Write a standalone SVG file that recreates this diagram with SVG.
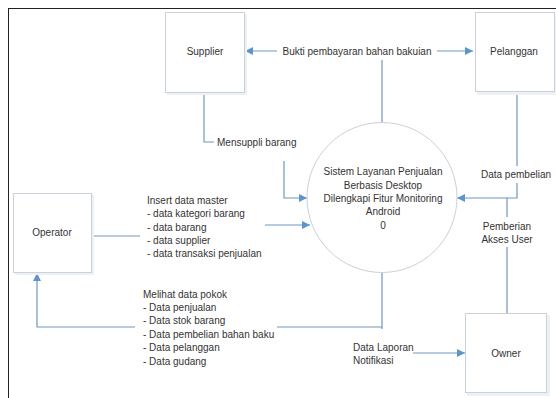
<svg xmlns="http://www.w3.org/2000/svg" width="556" height="398" viewBox="0 0 556 398">
<style>
  text { font-family: "Liberation Sans", Arial, sans-serif; font-size: 10px; fill: #333; }
  .box { fill: #fff; stroke: #c9d1da; stroke-width: 1; }
  .shadow { fill: #eef1f4; }
  .ln { fill: none; stroke: #7097bd; stroke-width: 1.2; }
  .bg { fill: #fff; }
  .c { text-anchor: middle; }
</style>
<defs>
  <marker id="ah" viewBox="0 0 10 10" refX="10" refY="5" markerWidth="9" markerHeight="8" markerUnits="userSpaceOnUse" orient="auto-start-reverse">
    <path d="M0,0 L10,5 L0,10 z" fill="#5b95cc"/>
  </marker>
</defs>
<rect x="0" y="0" width="556" height="398" fill="#fff"/>
<rect x="8.5" y="8.5" width="560" height="400" fill="none" stroke="#222" stroke-width="1"/>

<g id="connectors">
  <path class="ln" d="M245,51 H473" marker-start="url(#ah)" marker-end="url(#ah)"/>
  <path class="ln" d="M382,123 V51"/>
  <path class="ln" d="M204,92 V142 H284 V198 H307" marker-end="url(#ah)"/>
  <path class="ln" d="M92,236 H200 V225 H310" marker-end="url(#ah)"/>
  <path class="ln" d="M517,92 V198 H457" marker-end="url(#ah)"/>
  <path class="ln" d="M507,313 V198"/>
  <path class="ln" d="M382,272 V327 H37 V273" marker-end="url(#ah)"/>
  <path class="ln" d="M382,327 V353 H465" marker-end="url(#ah)"/>
</g>

<g id="labels">
  <rect class="bg" x="277" y="44" width="160" height="16"/>
  <text x="357" y="54.5" class="c">Bukti pembayaran bahan bakuian</text>
  <rect class="bg" x="214" y="134" width="88" height="27"/>
  <text x="217" y="145.5">Mensuppli barang</text>
  <rect class="bg" x="140" y="192" width="125" height="66"/>
  <text x="147" y="204">Insert data master</text>
  <text x="147" y="217.3">- data kategori barang</text>
  <text x="147" y="230.6">- data barang</text>
  <text x="147" y="243.9">- data supplier</text>
  <text x="147" y="257.2">- data transaksi penjualan</text>
  <rect class="bg" x="478" y="166" width="76" height="17"/>
  <text x="516" y="177.5" class="c">Data pembelian</text>
  <rect class="bg" x="482" y="217" width="52" height="30"/>
  <text x="507" y="229.5" class="c">Pemberian</text>
  <text x="507" y="242.5" class="c">Akses User</text>
  <rect class="bg" x="135" y="285" width="142" height="84"/>
  <text x="143" y="297.5">Melihat data pokok</text>
  <text x="143" y="310.9">- Data penjualan</text>
  <text x="143" y="324.3">- Data stok barang</text>
  <text x="143" y="337.7">- Data pembelian bahan baku</text>
  <text x="143" y="351.1">- Data pelanggan</text>
  <text x="143" y="364.5">- Data gudang</text>
  <rect class="bg" x="350" y="329" width="63" height="38"/>
  <text x="353" y="350.5">Data Laporan</text>
  <text x="353" y="363.5">Notifikasi</text>
</g>

<g id="supplier">
  <rect class="shadow" x="167" y="14" width="80" height="81"/>
  <rect class="box" x="165.5" y="12.5" width="79" height="80"/>
  <text x="205" y="54.5" class="c">Supplier</text>
</g>
<g id="pelanggan">
  <rect class="shadow" x="477" y="14" width="80" height="81"/>
  <rect class="box" x="475.5" y="12.5" width="79" height="79"/>
  <text x="514" y="54.5" class="c">Pelanggan</text>
</g>
<g id="operator">
  <rect class="shadow" x="15" y="195" width="79" height="80"/>
  <rect class="box" x="13.5" y="193.5" width="78" height="79"/>
  <text x="52" y="235.5" class="c">Operator</text>
</g>
<g id="owner">
  <rect class="shadow" x="467" y="315" width="83" height="81"/>
  <rect class="box" x="465.5" y="313.5" width="81" height="79"/>
  <text x="506" y="356.5" class="c">Owner</text>
</g>
<g id="process">
  <circle cx="382" cy="197.5" r="75" fill="#fff" stroke="#c9d1da" stroke-width="1"/>
  <text x="383" y="175" class="c">Sistem Layanan Penjualan</text>
  <text x="383" y="188.5" class="c">Berbasis Desktop</text>
  <text x="383" y="202" class="c">Dilengkapi Fitur Monitoring</text>
  <text x="383" y="215.3" class="c">Android</text>
  <text x="383" y="228.6" class="c">0</text>
</g>
</svg>
